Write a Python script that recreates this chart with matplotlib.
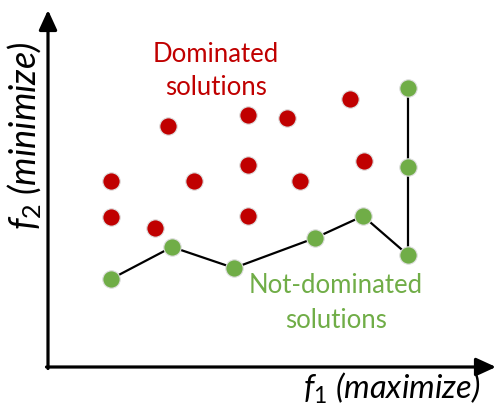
import numpy as np
import matplotlib.pyplot as plt

plt.rcParams['mathtext.fontset'] = 'custom'
plt.rcParams['mathtext.rm'] = 'Lato'
plt.rcParams['mathtext.it'] = 'Lato:italic'

# dominated solutions (f1, f2)
dom_f1 = [120, 200, 239, 302, 63, 146, 200, 252, 316, 63, 107, 200]
dom_f2 = [241, 252, 249, 268, 186, 186, 202, 186, 206, 150, 139, 151]

# pareto front, ordered along the line
front_f1 = [63, 124, 186, 267, 315, 360, 360, 360]
front_f2 = [88, 120, 99, 129, 151, 112, 200, 279]

RED = '#C00000'
GREEN = '#70AD47'

fig = plt.figure(figsize=(4.98, 4.07), dpi=100)
ax = fig.add_axes([0, 0, 1, 1])
ax.set_xlim(-48, 450)
ax.set_ylim(-40, 367)
ax.axis('off')

# axes arrows
arrow = dict(arrowstyle='-|>,head_length=1.2,head_width=0.55', color='black',
             lw=2.3, shrinkA=0, shrinkB=0)
ax.annotate('', xy=(0, 357), xytext=(0, -1.5), arrowprops=arrow)
ax.annotate('', xy=(448, 0), xytext=(-1.5, 0), arrowprops=arrow)

ax.plot(front_f1, front_f2, color='black', lw=1.6, zorder=2)
ax.plot(dom_f1, dom_f2, 'o', color=RED, ms=12.5, mec='#dddddd', mew=0.8, zorder=3)
ax.plot(front_f1, front_f2, 'o', color=GREEN, ms=12.5, mec='#dddddd', mew=0.8, zorder=3)

# annotations, one line each so baselines can be placed
txt = dict(fontsize=18.5, family='Lato', ha='center', va='baseline')
ax.text(168, 305, 'Dominated', color=RED, **txt)
ax.text(168, 272, 'solutions', color=RED, **txt)
ax.text(288, 74, 'Not-dominated', color=GREEN, **txt)
ax.text(288, 39, 'solutions', color=GREEN, **txt)

ax.text(344, -32, r'$f_1$ (maximize)', fontsize=23.5, family='Lato', style='italic',
        ha='center', va='baseline')
ax.text(-23, 231, r'$f_2$ (minimize)', fontsize=26, family='Lato', style='italic',
        ha='center', va='center', rotation=90)

fig.savefig('out.png', dpi=100)
